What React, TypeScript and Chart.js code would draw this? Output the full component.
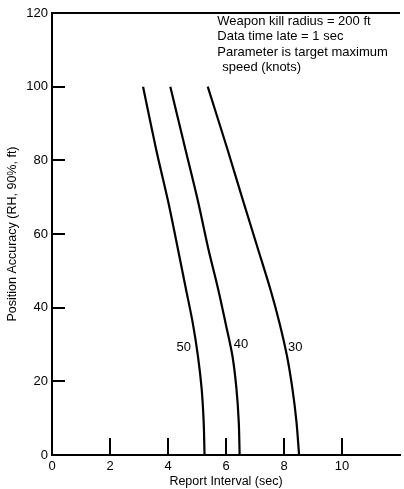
import React, { useEffect, useRef } from "react";
import { Chart, registerables } from "chart.js";

Chart.register(...registerables);

const positionAccuracy = [100, 83, 69, 56, 45, 36, 27, 18, 9, 0];
const interval50 = [3.14, 3.59, 4.0, 4.34, 4.62, 4.85, 5.03, 5.16, 5.23, 5.26];
const interval40 = [4.08, 4.6, 5.03, 5.39, 5.73, 5.98, 6.22, 6.36, 6.44, 6.47];
const interval30 = [5.37, 6.05, 6.59, 7.1, 7.53, 7.84, 8.1, 8.29, 8.43, 8.52];

const speedLabels = ["50", "40", "30"];
const speedLabelX = [4.54, 6.52, 8.39];
const speedLabelY = [29.3, 30.0, 29.3];

const innerXTicks = [2, 4, 6, 8, 10];
const innerYTicks = [20, 40, 60, 80, 100];

const noteLines = [
  "Weapon kill radius = 200 ft",
  "Data time late = 1 sec",
  "Parameter is target maximum",
  "speed (knots)",
];
const noteIndent = [0, 0, 0, 5];
const noteX = 5.7;
const noteTopY = 117.7;

const FONT = "'Liberation Sans', Arial, Helvetica, sans-serif";

const toPoints = (xs: number[]) => xs.map((x, i) => ({ x, y: positionAccuracy[i] }));

const overlayPlugin = {
  id: "overlay",
  afterDraw(chart: any) {
    const { ctx, chartArea, scales } = chart;
    const xs = scales.x;
    const ys = scales.y;
    ctx.save();
    ctx.strokeStyle = "#000";
    ctx.lineWidth = 2;
    ctx.beginPath();
    ctx.moveTo(chartArea.left, chartArea.top);
    ctx.lineTo(chartArea.right, chartArea.top);
    ctx.stroke();
    ctx.beginPath();
    innerXTicks.forEach((v) => {
      const px = Math.round(xs.getPixelForValue(v));
      ctx.moveTo(px, chartArea.bottom);
      ctx.lineTo(px, chartArea.bottom - 17);
    });
    innerYTicks.forEach((v) => {
      const py = Math.round(ys.getPixelForValue(v));
      ctx.moveTo(chartArea.left, py);
      ctx.lineTo(chartArea.left + 13, py);
    });
    ctx.stroke();
    ctx.fillStyle = "#000";
    ctx.font = `13px ${FONT}`;
    ctx.textAlign = "center";
    ctx.textBaseline = "middle";
    speedLabels.forEach((t, i) => {
      ctx.fillText(t, xs.getPixelForValue(speedLabelX[i]), ys.getPixelForValue(speedLabelY[i]));
    });
    ctx.textAlign = "left";
    const nx = xs.getPixelForValue(noteX);
    const ny = ys.getPixelForValue(noteTopY);
    noteLines.forEach((t, i) => {
      ctx.fillText(t, nx + noteIndent[i], ny + i * 15.3);
    });
    ctx.restore();
  },
};

export default function App() {
  const canvasRef = useRef<HTMLCanvasElement | null>(null);

  useEffect(() => {
    if (!canvasRef.current) return;
    const lineStyle = {
      showLine: true,
      borderColor: "#000",
      backgroundColor: "#000",
      borderWidth: 2.2,
      pointRadius: 0,
      tension: 0.3,
      fill: false,
    };
    const chart = new Chart(canvasRef.current, {
      type: "scatter",
      data: {
        datasets: [
          { label: "50", data: toPoints(interval50), ...lineStyle },
          { label: "40", data: toPoints(interval40), ...lineStyle },
          { label: "30", data: toPoints(interval30), ...lineStyle },
        ],
      },
      options: {
        animation: false,
        responsive: true,
        maintainAspectRatio: false,
        layout: { padding: { top: 13, right: 0, left: 0, bottom: 0 } },
        plugins: { legend: { display: false }, tooltip: { enabled: false } },
        scales: {
          x: {
            type: "linear",
            min: 0,
            max: 12,
            grid: { display: false, drawTicks: false },
            border: { display: true, color: "#000", width: 2 },
            ticks: {
              stepSize: 2,
              padding: 4,
              color: "#000",
              font: { family: FONT, size: 13 },
              callback: (v: any) => (Number(v) <= 10 ? String(v) : ""),
            },
            title: {
              display: true,
              text: "Report Interval (sec)",
              color: "#000",
              font: { family: FONT, size: 12.5 },
              padding: 0,
            },
            afterFit: (s: any) => {
              s.height = 34;
            },
          },
          y: {
            type: "linear",
            min: 0,
            max: 120,
            grid: { display: false, drawTicks: false },
            border: { display: true, color: "#000", width: 2 },
            ticks: {
              stepSize: 20,
              padding: 4,
              color: "#000",
              font: { family: FONT, size: 13 },
            },
            title: {
              display: true,
              text: "Position Accuracy (RH, 90%, ft)",
              color: "#000",
              font: { family: FONT, size: 12.5 },
              padding: { top: 5, bottom: 0 },
            },
            afterFit: (s: any) => {
              s.width = 52;
            },
          },
        },
      },
      plugins: [overlayPlugin],
    });
    return () => chart.destroy();
  }, []);

  return (
    <div style={{ position: "absolute", left: 0, top: 0, width: 404, height: 489, background: "#fff" }}>
      <canvas ref={canvasRef} />
    </div>
  );
}
